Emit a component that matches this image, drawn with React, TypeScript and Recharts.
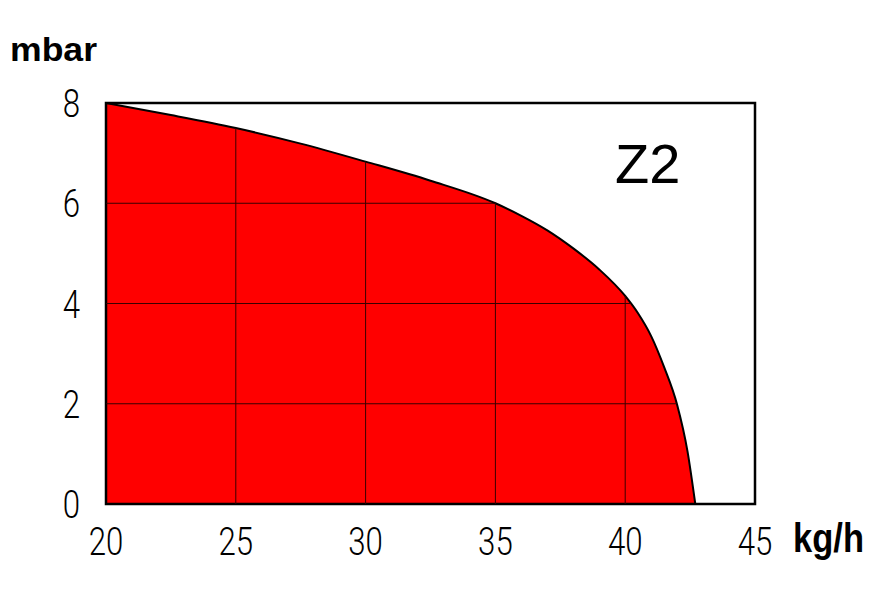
import React from "react";
import {
  AreaChart,
  Area,
  XAxis,
  YAxis,
  ReferenceLine,
  ReferenceArea,
} from "recharts";

// flow rate kg/h vs pressure drop mbar
const flow = [20, 22.5, 25, 27.5, 30, 32.5, 35, 36, 37, 38, 39, 40, 40.5, 41, 41.5, 42, 42.4, 42.7];
const pressure = [8, 7.76, 7.5, 7.19, 6.83, 6.45, 6.0, 5.75, 5.46, 5.1, 4.68, 4.15, 3.8, 3.35, 2.73, 1.98, 1.05, 0];

const xTicks = [20, 25, 30, 35, 40, 45];
const yTicks = [0, 2, 4, 6, 8];
const gridX = [25, 30, 35, 40];
const gridY = [2, 4, 6];

const data = flow.map((x, i) => ({ x, y: pressure[i] }));

// where a grid line meets the curve (linear between neighbouring points)
const yAt = (x: number) => {
  for (let i = 1; i < flow.length; i++) {
    if (x <= flow[i]) {
      const t = (x - flow[i - 1]) / (flow[i] - flow[i - 1]);
      return pressure[i - 1] + t * (pressure[i] - pressure[i - 1]);
    }
  }
  return 0;
};
const xAt = (y: number) => {
  for (let i = 1; i < pressure.length; i++) {
    if (y >= pressure[i]) {
      const t = (pressure[i - 1] - y) / (pressure[i - 1] - pressure[i]);
      return flow[i - 1] + t * (flow[i] - flow[i - 1]);
    }
  }
  return 20;
};

const tickFont = "Roboto, 'Liberation Sans', sans-serif";
const gridColor = "#3a0000";

const NarrowTick = (props: any) => {
  const { x, y, payload, textAnchor, dy } = props;
  return (
    <text
      transform={`translate(${x},${y}) scale(0.8,1)`}
      textAnchor={textAnchor}
      dy={dy}
      fontSize={39}
      fontWeight={300}
      fontFamily={tickFont}
      fill="#000"
    >
      {payload.value}
    </text>
  );
};

export default function App() {
  return (
    <div style={{ position: "relative", width: 887, height: 591 }}>
      <style>{`body { margin: 0; background: #fff; }`}</style>
      <AreaChart
        width={887}
        height={591}
        data={data}
        margin={{ top: 103, right: 132, bottom: 0, left: 0 }}
      >
        <XAxis
          dataKey="x"
          type="number"
          domain={[20, 45]}
          ticks={xTicks}
          height={87}
          axisLine={false}
          tickLine={false}
          tickSize={0}
          tickMargin={23}
          tick={(p: any) => <NarrowTick {...p} textAnchor="middle" dy="0.71em" />}
        />
        <YAxis
          type="number"
          domain={[0, 8]}
          ticks={yTicks}
          width={106}
          axisLine={false}
          tickLine={false}
          tickSize={0}
          tickMargin={26}
          tick={(p: any) => <NarrowTick {...p} textAnchor="end" dy="0.36em" />}
        />
        <Area
          type="monotone"
          dataKey="y"
          fill="#ff0000"
          fillOpacity={1}
          stroke="#000"
          strokeWidth={2}
          isAnimationActive={false}
        />
        {gridX.map((gx) => (
          <ReferenceLine
            key={"gx" + gx}
            segment={[
              { x: gx, y: 0 },
              { x: gx, y: yAt(gx) },
            ]}
            stroke={gridColor}
            strokeWidth={1}
          />
        ))}
        {gridY.map((gy) => (
          <ReferenceLine
            key={"gy" + gy}
            segment={[
              { x: 20, y: gy },
              { x: xAt(gy), y: gy },
            ]}
            stroke={gridColor}
            strokeWidth={1}
          />
        ))}
        <ReferenceArea
          x1={20}
          x2={45}
          y1={0}
          y2={8}
          fill="none"
          fillOpacity={0}
          stroke="#000"
          strokeWidth={2.5}
        />
      </AreaChart>
      <svg
        width={887}
        height={591}
        style={{ position: "absolute", left: 0, top: 0, pointerEvents: "none" }}
      >
        <text
          x={10}
          y={61}
          fontSize={34}
          fontWeight="bold"
          fontFamily="'Liberation Sans', Arial, sans-serif"
          textLength={87}
          lengthAdjust="spacingAndGlyphs"
        >
          mbar
        </text>
        <text
          x={793}
          y={552}
          fontSize={41}
          fontWeight="bold"
          fontFamily="'Liberation Sans', Arial, sans-serif"
          textLength={71}
          lengthAdjust="spacingAndGlyphs"
        >
          kg/h
        </text>
        <text
          x={615}
          y={183}
          fontSize={56}
          fontFamily="'Liberation Sans', Arial, sans-serif"
        >
          Z2
        </text>
      </svg>
    </div>
  );
}
